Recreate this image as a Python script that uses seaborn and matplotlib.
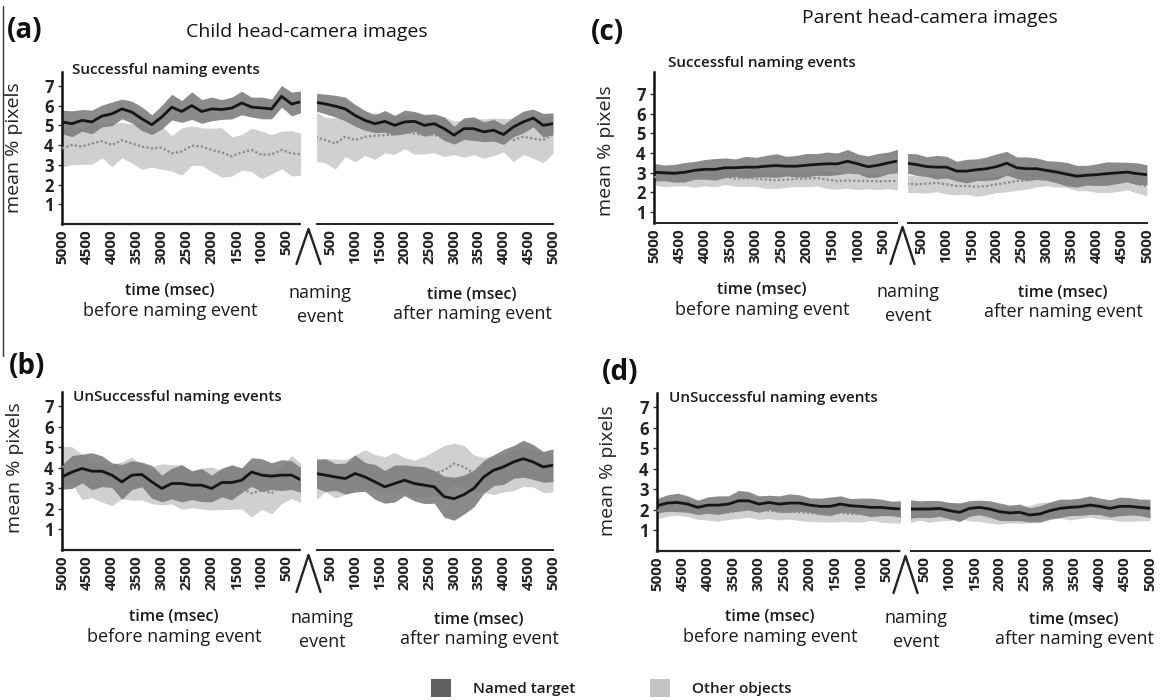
import matplotlib
matplotlib.use("Agg")
import matplotlib.pyplot as plt
from matplotlib.lines import Line2D
from matplotlib.patches import Patch
import seaborn as sns

# ---------------- data ----------------
BEFORE_MS = [-5000, -4800, -4600, -4400, -4200, -4000, -3800, -3600, -3400, -3200,
             -3000, -2800, -2600, -2400, -2200, -2000, -1800, -1600, -1400, -1200,
             -1000, -800, -600, -400, -200]
AFTER_MS = [200, 400, 600, 800, 1000, 1200, 1400, 1600, 1800, 2000,
            2200, 2400, 2600, 2800, 3000, 3200, 3400, 3600, 3800, 4000,
            4200, 4400, 4600, 4800, 5000]
BEFORE_TICKS = [-5000, -4500, -4000, -3500, -3000, -2500, -2000, -1500, -1000, -500]
BEFORE_TICK_LABELS = ["5000", "4500", "4000", "3500", "3000", "2500", "2000", "1500", "1000", "500"]
AFTER_TICKS = [500, 1000, 1500, 2000, 2500, 3000, 3500, 4000, 4500, 5000]
AFTER_TICK_LABELS = ["500", "1000", "1500", "2000", "2500", "3000", "3500", "4000", "4500", "5000"]
Y_TICKS = [1, 2, 3, 4, 5, 6, 7]

# (a) child, successful
A_BEF_T = [5.17, 5.08, 5.25, 5.17, 5.47, 5.58, 5.83, 5.67, 5.33, 5.03, 5.42, 5.92, 5.7, 6.0, 5.7,
           5.83, 5.8, 5.87, 6.13, 5.92, 5.88, 5.83, 6.47, 6.08, 6.2]
A_BEF_T_HW = [0.6, 0.65, 0.55, 0.6, 0.55, 0.6, 0.5, 0.55, 0.6, 0.5, 0.6, 0.65, 0.55, 0.7, 0.6,
              0.6, 0.5, 0.55, 0.6, 0.5, 0.55, 0.5, 0.55, 0.6, 0.55]
A_BEF_O = [3.83, 4.0, 3.92, 4.08, 4.2, 4.0, 4.25, 4.08, 3.92, 3.83, 3.87, 3.58, 3.67, 3.97, 3.92,
           3.75, 3.63, 3.42, 3.63, 3.75, 3.5, 3.53, 3.75, 3.58, 3.53]
A_BEF_O_HW = [0.95, 1.0, 0.9, 1.05, 0.85, 1.1, 0.9, 1.0, 1.15, 0.95, 1.1, 0.9, 1.2, 1.0, 0.95,
              1.1, 1.25, 1.0, 0.9, 1.1, 1.2, 1.0, 0.95, 1.15, 1.05]
A_AFT_T = [6.17, 6.08, 5.97, 5.83, 5.5, 5.25, 5.08, 5.2, 5.0, 5.17, 5.2, 5.0, 5.08, 4.83, 4.5,
           4.83, 4.83, 4.67, 4.75, 4.53, 4.92, 5.17, 5.37, 5.0, 5.08]
A_AFT_T_HW = [0.45, 0.5, 0.55, 0.6, 0.55, 0.5, 0.45, 0.55, 0.5, 0.6, 0.5, 0.55, 0.5, 0.6, 0.45,
              0.55, 0.6, 0.5, 0.55, 0.5, 0.5, 0.55, 0.45, 0.6, 0.55]
A_AFT_O = [4.42, 4.25, 4.08, 4.42, 4.25, 4.42, 4.47, 4.5, 4.53, 4.67, 4.58, 4.5, 4.5, 4.42, 4.37,
           4.33, 4.42, 4.33, 4.42, 4.5, 4.25, 4.42, 4.33, 4.25, 4.53]
A_AFT_O_HW = [1.25, 1.15, 1.3, 1.0, 1.1, 0.95, 1.2, 0.9, 1.0, 0.85, 1.05, 0.95, 0.9, 1.0, 0.85,
              0.95, 0.9, 1.0, 0.95, 0.85, 1.1, 0.9, 1.0, 1.15, 0.95]

# (b) child, unsuccessful
B_BEF_T = [3.56, 3.8, 3.97, 3.84, 3.84, 3.65, 3.32, 3.65, 3.68, 3.32, 3.0, 3.24, 3.24, 3.16, 3.16,
           3.0, 3.29, 3.29, 3.4, 3.8, 3.65, 3.6, 3.65, 3.65, 3.4]
B_BEF_T_HW = [0.6, 0.8, 0.7, 0.9, 0.75, 0.6, 0.85, 0.7, 0.6, 0.8, 0.65, 0.75, 0.9, 0.7, 0.8,
              0.65, 0.7, 0.85, 0.6, 0.7, 0.8, 0.65, 0.75, 0.7, 0.6]
B_BEF_O = [4.05, 4.13, 3.56, 3.4, 3.29, 3.16, 3.4, 3.48, 3.29, 3.16, 3.2, 3.2, 3.08, 2.97, 3.0,
           3.0, 2.92, 3.08, 3.0, 2.76, 2.92, 2.76, 3.16, 3.56, 3.24]
B_BEF_O_HW = [1.0, 0.9, 1.1, 0.85, 0.95, 1.0, 0.9, 1.05, 0.85, 0.9, 1.0, 0.95, 1.1, 0.9, 1.0,
              1.05, 0.95, 1.1, 1.0, 1.15, 0.95, 1.0, 0.9, 1.05, 0.95]
B_AFT_T = [3.73, 3.65, 3.56, 3.48, 3.73, 3.56, 3.32, 3.08, 3.24, 3.4, 3.24, 3.16, 3.08, 2.6, 2.5,
           2.7, 3.0, 3.56, 3.89, 4.05, 4.29, 4.45, 4.29, 4.05, 4.13]
B_AFT_T_HW = [0.7, 0.8, 0.65, 0.75, 0.9, 0.7, 0.85, 0.8, 0.9, 0.75, 0.85, 0.9, 0.8, 1.0, 1.05,
              0.95, 0.9, 0.8, 0.75, 0.85, 0.8, 0.9, 0.85, 0.75, 0.8]
B_AFT_O = [3.32, 3.65, 3.48, 3.56, 3.73, 3.89, 3.8, 3.65, 3.8, 3.65, 3.48, 3.56, 3.73, 3.89, 4.21,
           4.05, 3.73, 3.65, 3.65, 3.73, 3.89, 4.05, 3.97, 3.8, 3.73]
B_AFT_O_HW = [0.9, 0.8, 0.95, 0.85, 0.9, 1.0, 0.85, 0.9, 0.95, 0.85, 0.9, 1.0, 1.1, 1.2, 1.0,
              1.05, 0.9, 0.85, 0.95, 0.9, 1.0, 0.95, 0.9, 1.0, 0.9]

# (c) parent, successful
C_BEF_T = [3.02, 2.99, 2.97, 3.02, 3.12, 3.17, 3.17, 3.25, 3.25, 3.28, 3.28, 3.33, 3.36, 3.33, 3.33,
           3.38, 3.42, 3.45, 3.45, 3.58, 3.45, 3.3, 3.38, 3.5, 3.6]
C_BEF_T_HW = [0.45, 0.4, 0.45, 0.5, 0.45, 0.5, 0.55, 0.5, 0.45, 0.55, 0.5, 0.55, 0.6, 0.5, 0.55,
              0.6, 0.55, 0.6, 0.55, 0.6, 0.5, 0.55, 0.6, 0.55, 0.6]
C_BEF_O = [2.78, 2.7, 2.7, 2.73, 2.7, 2.73, 2.7, 2.78, 2.7, 2.73, 2.7, 2.65, 2.61, 2.65, 2.68,
           2.7, 2.73, 2.65, 2.58, 2.61, 2.58, 2.58, 2.56, 2.58, 2.56]
C_BEF_O_HW = [0.4, 0.42, 0.38, 0.4, 0.45, 0.4, 0.42, 0.38, 0.4, 0.42, 0.4, 0.45, 0.42, 0.4, 0.38,
              0.42, 0.4, 0.45, 0.42, 0.4, 0.44, 0.4, 0.42, 0.4, 0.45]
C_AFT_T = [3.48, 3.41, 3.31, 3.28, 3.28, 3.08, 3.08, 3.15, 3.2, 3.31, 3.48, 3.25, 3.2, 3.2, 3.11,
           3.03, 2.92, 2.82, 2.87, 2.9, 2.95, 2.99, 3.03, 2.95, 2.9]
C_AFT_T_HW = [0.5, 0.55, 0.5, 0.6, 0.55, 0.5, 0.6, 0.55, 0.6, 0.65, 0.6, 0.55, 0.6, 0.55, 0.5,
              0.55, 0.6, 0.55, 0.5, 0.55, 0.6, 0.55, 0.5, 0.55, 0.5]
C_AFT_O = [2.44, 2.41, 2.44, 2.48, 2.41, 2.32, 2.32, 2.28, 2.32, 2.41, 2.48, 2.58, 2.61, 2.7, 2.78,
           2.75, 2.7, 2.58, 2.53, 2.48, 2.44, 2.53, 2.61, 2.41, 2.32]
C_AFT_O_HW = [0.45, 0.42, 0.48, 0.45, 0.5, 0.45, 0.42, 0.48, 0.45, 0.42, 0.45, 0.48, 0.45, 0.42, 0.45,
              0.48, 0.45, 0.5, 0.45, 0.48, 0.45, 0.5, 0.48, 0.45, 0.5]

# (d) parent, unsuccessful
D_BEF_T = [2.2, 2.33, 2.36, 2.28, 2.12, 2.23, 2.23, 2.28, 2.44, 2.44, 2.28, 2.36, 2.28, 2.33, 2.33,
           2.23, 2.17, 2.17, 2.28, 2.2, 2.17, 2.12, 2.12, 2.07, 2.04]
D_BEF_T_HW = [0.35, 0.4, 0.45, 0.4, 0.35, 0.4, 0.45, 0.4, 0.5, 0.45, 0.4, 0.35, 0.4, 0.45, 0.4,
              0.35, 0.4, 0.45, 0.4, 0.35, 0.4, 0.45, 0.4, 0.35, 0.4]
D_BEF_O = [1.96, 2.04, 2.12, 2.07, 1.96, 1.88, 1.85, 1.88, 1.96, 2.04, 1.96, 1.96, 1.91, 1.91, 1.88,
           1.85, 1.8, 1.8, 1.85, 1.8, 1.8, 1.85, 1.8, 1.75, 1.75]
D_BEF_O_HW = [0.4, 0.35, 0.38, 0.4, 0.42, 0.38, 0.4, 0.35, 0.38, 0.4, 0.42, 0.38, 0.4, 0.36, 0.4,
              0.42, 0.38, 0.4, 0.42, 0.38, 0.4, 0.36, 0.4, 0.38, 0.4]
D_AFT_T = [2.04, 2.04, 2.04, 2.07, 1.96, 1.88, 2.07, 2.12, 2.04, 1.91, 1.85, 1.88, 1.75, 1.8, 1.96,
           2.07, 2.12, 2.15, 2.23, 2.17, 2.07, 2.17, 2.17, 2.12, 2.07]
D_AFT_T_HW = [0.45, 0.4, 0.42, 0.38, 0.4, 0.45, 0.38, 0.35, 0.4, 0.42, 0.38, 0.4, 0.35, 0.4, 0.42,
              0.45, 0.4, 0.42, 0.45, 0.4, 0.42, 0.45, 0.42, 0.4, 0.45]
D_AFT_O = [1.75, 1.85, 1.8, 1.85, 1.91, 1.96, 1.85, 1.8, 1.75, 1.72, 1.75, 1.75, 1.8, 1.96, 2.0,
           1.96, 1.91, 1.96, 2.0, 1.96, 1.91, 1.85, 1.8, 1.85, 1.88]
D_AFT_O_HW = [0.38, 0.35, 0.4, 0.38, 0.42, 0.4, 0.38, 0.36, 0.4, 0.42, 0.38, 0.4, 0.42, 0.4, 0.38,
              0.36, 0.4, 0.38, 0.35, 0.4, 0.38, 0.4, 0.36, 0.38, 0.4]

LEGEND_LABELS = ["Named target", "Other objects"]

# ---------------- style ----------------
sns.set_theme(style="white")
plt.rcParams["font.family"] = ["Open Sans", "DejaVu Sans"]

W, H = 1169, 700
DARK_BAND = "#7b7b7b"
LIGHT_BAND = "#d0d0d0"
DARK_LINE = "#151515"
LIGHT_LINE = "#8a8a8a"
AXIS_COL = "#222222"

fig = plt.figure(figsize=(W / 100, H / 100), dpi=100)


def rect(x0, x1, ytop, ybot):
    return [x0 / W, 1 - ybot / H, (x1 - x0) / W, (ybot - ytop) / H]


def ftext(x, y, s, **kw):
    fig.text(x / W, 1 - y / H, s, ha=kw.pop("ha", "center"), va=kw.pop("va", "center"), **kw)


def draw_segment(ax, xs, tgt, tgt_hw, oth, oth_hw):
    ax.fill_between(xs, [m - h for m, h in zip(oth, oth_hw)], [m + h for m, h in zip(oth, oth_hw)],
                    color=LIGHT_BAND, lw=0, zorder=1)
    ax.fill_between(xs, [m - h for m, h in zip(tgt, tgt_hw)], [m + h for m, h in zip(tgt, tgt_hw)],
                    color=DARK_BAND, alpha=0.88, lw=0, zorder=2)
    sns.lineplot(x=xs, y=oth, ax=ax, color=LIGHT_LINE, linewidth=1.6, linestyle=(0, (1, 1)), zorder=3)
    sns.lineplot(x=xs, y=tgt, ax=ax, color=DARK_LINE, linewidth=2.0, zorder=4)


def panel(bx, ax_x, ytop, ybot, ylim, data, title, ylab_x, ylab_y, title_xy, dotted_before):
    axb = fig.add_axes(rect(bx[0], bx[1], ytop, ybot))
    axa = fig.add_axes(rect(ax_x[0], ax_x[1], ytop, ybot))
    bt, bthw, bo, bohw, at, athw, ao, aohw = data
    draw_segment(axb, BEFORE_MS, bt, bthw, bo, bohw)
    draw_segment(axa, AFTER_MS, at, athw, ao, aohw)
    axb.set_xlim(-5000, -230)
    axa.set_xlim(230, 5000)
    for a in (axb, axa):
        a.set_ylim(*ylim)
        a.set_facecolor("none")
        a.spines["top"].set_visible(False)
        a.spines["right"].set_visible(False)
        a.spines["bottom"].set_color(AXIS_COL)
        a.spines["bottom"].set_linewidth(1.4)
        a.tick_params(axis="x", length=0, pad=4, labelsize=11, labelcolor="#222222")
        a.set_xlabel("")
        a.set_ylabel("")
    if dotted_before:
        axb.spines["bottom"].set_linestyle((0, (1, 1)))
        axb.spines["bottom"].set_linewidth(1.6)
    axb.set_xticks(BEFORE_TICKS)
    axb.set_xticklabels(BEFORE_TICK_LABELS, rotation=90, fontweight="bold")
    axa.set_xticks(AFTER_TICKS)
    axa.set_xticklabels(AFTER_TICK_LABELS, rotation=90, fontweight="bold")
    axa.spines["left"].set_visible(False)
    axa.set_yticks([])
    axb.spines["left"].set_color("#111111")
    axb.spines["left"].set_linewidth(1.8)
    axb.set_yticks(Y_TICKS)
    axb.set_yticklabels([str(t) for t in Y_TICKS], fontweight="bold")
    axb.tick_params(axis="y", length=3, width=1, pad=3, labelsize=12, left=True,
                    color="#333333", labelcolor="#222222")
    axb.set_ylabel("mean % pixels", fontsize=14, color="#222222")
    axb.yaxis.set_label_coords(ylab_x, ylab_y)
    axb.text(title_xy[0], title_xy[1], title, transform=axb.transAxes, fontsize=11,
             fontweight="semibold", color="#1a1a1a", ha="left", va="center")
    return axb, axa


panel((62, 300), (317, 553), 72, 224, (0, 7.7),
      (A_BEF_T, A_BEF_T_HW, A_BEF_O, A_BEF_O_HW, A_AFT_T, A_AFT_T_HW, A_AFT_O, A_AFT_O_HW),
      "Successful naming events", -0.165, 0.5, (0.04, 1.01), True)
panel((62, 300), (317, 553), 392, 550, (0, 7.7),
      (B_BEF_T, B_BEF_T_HW, B_BEF_O, B_BEF_O_HW, B_AFT_T, B_AFT_T_HW, B_AFT_O, B_AFT_O_HW),
      "UnSuccessful naming events", -0.16, 0.52, (0.045, 0.97), True)
panel((654, 897), (908, 1147), 72, 223, (0.44, 8.12),
      (C_BEF_T, C_BEF_T_HW, C_BEF_O, C_BEF_O_HW, C_AFT_T, C_AFT_T_HW, C_AFT_O, C_AFT_O_HW),
      "Successful naming events", -0.16, 0.48, (0.058, 1.06), False)
panel((657, 900), (911, 1150), 393, 551, (0, 7.68),
      (D_BEF_T, D_BEF_T_HW, D_BEF_O, D_BEF_O_HW, D_AFT_T, D_AFT_T_HW, D_AFT_O, D_AFT_O_HW),
      "UnSuccessful naming events", -0.165, 0.51, (0.05, 0.968), True)

# naming-event wedges
for xc, yt, yb in [(308.5, 229, 264), (308.5, 555, 592), (902.5, 227, 264), (905.5, 556, 593)]:
    fig.add_artist(Line2D([(xc - 12) / W, xc / W, (xc + 12) / W], [1 - yb / H, 1 - yt / H, 1 - yb / H],
                          transform=fig.transFigure, color="#222222", lw=1.7))

# thin left border line
fig.add_artist(Line2D([3 / W, 3 / W], [1 - 6 / H, 1 - 356 / H], transform=fig.transFigure,
                      color="#333333", lw=1.0))

# headings
ftext(25, 31, "(a)", fontsize=20, fontweight="bold", color="#111111")
ftext(307, 32, "Child head-camera images", fontsize=14, color="#111111")
ftext(607, 33, "(c)", fontsize=20, fontweight="bold", color="#111111")
ftext(930, 18, "Parent head-camera images", fontsize=14, color="#111111")
ftext(27, 366, "(b)", fontsize=20, fontweight="bold", color="#111111")
ftext(620, 372, "(d)", fontsize=20, fontweight="bold", color="#111111")

# x-axis captions
for (bx, by), (nx, ny), (axx, ay) in [((170, 291), (320, 293), (472, 295)),
                                      ((174, 617), (322, 618), (479, 620)),
                                      ((762, 290), (908, 292), (1063, 293)),
                                      ((770, 617), (916, 618), (1074, 620))]:
    ftext(bx, by, "time (msec)", fontsize=11.5, fontweight="semibold", color="#1a1a1a")
    ftext(bx, by + 20, "before naming event", fontsize=13, color="#1a1a1a")
    ftext(nx, ny, "naming", fontsize=13, color="#1a1a1a")
    ftext(nx, ny + 24, "event", fontsize=13, color="#1a1a1a")
    ftext(axx, ay, "time (msec)", fontsize=11.5, fontweight="semibold", color="#1a1a1a")
    ftext(axx, ay + 19, "after naming event", fontsize=13, color="#1a1a1a")

# legend
handles = [Patch(facecolor="#5f5f5f", edgecolor="none", label=LEGEND_LABELS[0]),
           Patch(facecolor="#c4c4c4", edgecolor="none", label=LEGEND_LABELS[1])]
leg = fig.legend(handles=handles, loc="center", bbox_to_anchor=(611 / W, 1 - 688 / H), ncol=2,
                 frameon=False, handlelength=1.35, handleheight=1.35, handletextpad=1.4,
                 columnspacing=4.9, borderpad=0, prop={"size": 11, "weight": "semibold"})
for t in leg.get_texts():
    t.set_color("#1a1a1a")

fig.savefig("out.png", dpi=100)
